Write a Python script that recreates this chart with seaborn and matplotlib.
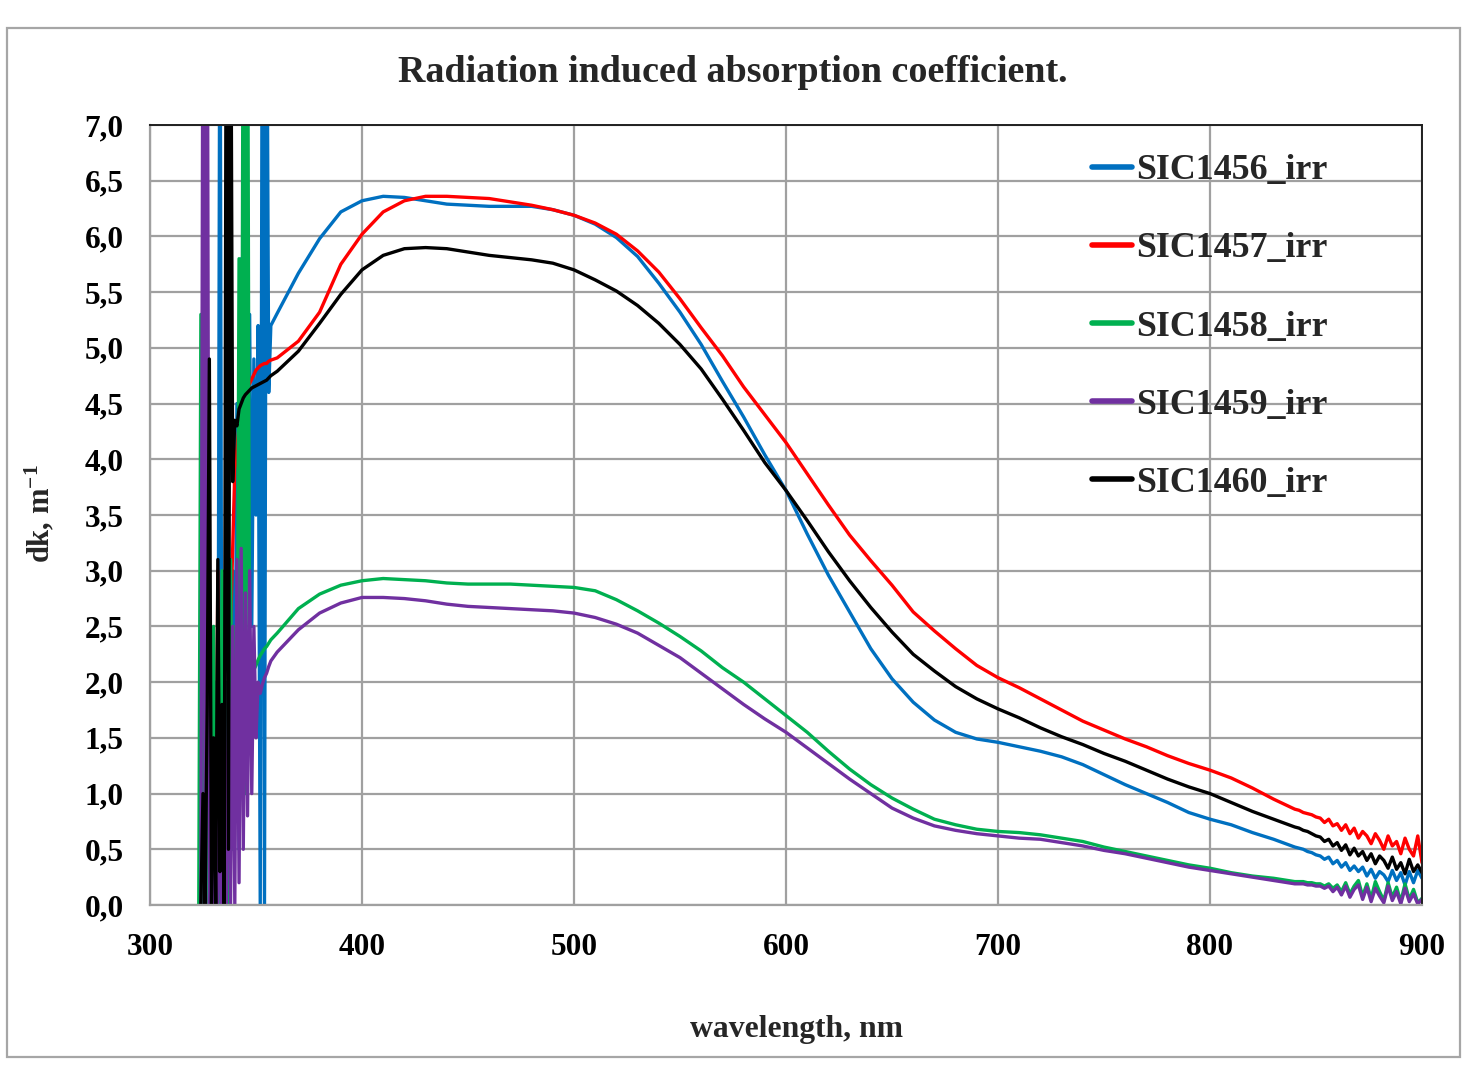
import numpy as np
import pandas as pd
import matplotlib
matplotlib.use("Agg")
import matplotlib.pyplot as plt
import seaborn as sns
from matplotlib.patches import Rectangle
from matplotlib.lines import Line2D
from matplotlib.ticker import FuncFormatter

nan = np.nan

# ---------------- data ----------------
series_names = ["SIC1456_irr", "SIC1457_irr", "SIC1458_irr", "SIC1459_irr", "SIC1460_irr"]
series_colors = ["#0070C0", "#FF0000", "#00B050", "#7030A0", "#000000"]

# sampling wavelengths (nm): noisy UV edge, smooth body, noisy tail
wl_uv = list(range(323, 358))          # 323..357
wl_main = list(range(360, 841, 10))    # 360..840
wl_tail = list(range(842, 901, 2))     # 842..900

blue_uv = [nan, nan, nan, nan, nan, nan, nan, 0.0, 2.0, 0.5, 9.0, 0.0, 1.5, 0.3, 2.0, 0.5, 3.0, 1.0,
           4.5, 0.5, 5.8, 2.0, 5.2, 3.0, 5.3, 2.5, 4.9, 3.5, 5.2, 0.0, 9.0, 0.0, 9.0, 4.6, 5.2]
red_uv = [nan, 4.7, 0.0, 3.5, 0.2, 2.0, 0.0, 1.5, 0.0, 3.0, 0.5, 2.5, 0.3, 1.0, 0.0, 2.5, 3.2, 3.9,
          4.1, 4.3, 4.45, 4.55, 4.6, 4.65, 4.68, 4.72, 4.76, 4.8, 4.82, 4.84, 4.85, 4.86, 4.86, 4.88, 4.89]
green_uv = [0.0, 5.3, 0.0, 2.0, 0.0, 1.0, 0.0, 2.5, 0.0, 1.5, 0.0, 3.0, 0.5, 2.0, 0.0, 3.1, 0.5, 2.5,
            1.0, 5.8, 1.5, 9.0, 1.0, 9.0, 1.5, 2.2, 2.11, 2.15, 2.2, 2.24, 2.27, 2.3, 2.32, 2.35, 2.38]
purple_uv = [nan, 0.0, 9.0, 0.5, 9.0, 0.0, 1.0, 0.0, 1.2, 0.0, 0.8, 0.0, 1.5, 0.0, 2.0, 0.0, 2.5, 0.0,
             3.1, 0.2, 3.2, 0.5, 2.8, 0.8, 3.0, 1.0, 2.5, 1.5, 2.0, 1.9, 1.98, 2.04, 2.08, 2.14, 2.19]
black_uv = [nan, 0.0, 1.0, 0.0, 1.8, 4.9, 0.0, 1.5, 0.0, 3.1, 0.3, 1.8, 0.0, 9.0, 0.5, 9.0, 3.8, 4.35,
            4.3, 4.45, 4.5, 4.55, 4.58, 4.6, 4.62, 4.64, 4.65, 4.66, 4.67, 4.68, 4.69, 4.7, 4.71, 4.73, 4.75]

blue_main = [5.31, 5.67, 5.98, 6.22, 6.32, 6.36, 6.35, 6.32, 6.29, 6.28, 6.27, 6.27, 6.27, 6.24, 6.19,
             6.11, 5.99, 5.82, 5.58, 5.32, 5.03, 4.70, 4.38, 4.04, 3.72, 3.33, 2.96, 2.63, 2.30, 2.03,
             1.82, 1.66, 1.55, 1.49, 1.46, 1.42, 1.38, 1.33, 1.26, 1.17, 1.08, 1.00, 0.92, 0.83, 0.77,
             0.72, 0.65, 0.59, 0.52]
red_main = [4.91, 5.06, 5.32, 5.75, 6.02, 6.22, 6.32, 6.36, 6.36, 6.35, 6.34, 6.31, 6.28, 6.24, 6.19,
            6.12, 6.02, 5.87, 5.68, 5.44, 5.18, 4.93, 4.65, 4.40, 4.15, 3.87, 3.59, 3.32, 3.09, 2.87,
            2.63, 2.46, 2.30, 2.15, 2.04, 1.95, 1.85, 1.75, 1.65, 1.57, 1.49, 1.42, 1.34, 1.27, 1.21,
            1.14, 1.05, 0.95, 0.86]
green_main = [2.44, 2.66, 2.79, 2.87, 2.91, 2.93, 2.92, 2.91, 2.89, 2.88, 2.88, 2.88, 2.87, 2.86, 2.85,
              2.82, 2.74, 2.64, 2.53, 2.41, 2.28, 2.13, 2.00, 1.85, 1.70, 1.55, 1.38, 1.22, 1.08, 0.96,
              0.86, 0.77, 0.72, 0.68, 0.66, 0.65, 0.63, 0.60, 0.57, 0.52, 0.48, 0.44, 0.40, 0.36, 0.33,
              0.29, 0.26, 0.24, 0.21]
purple_main = [2.27, 2.47, 2.62, 2.71, 2.76, 2.76, 2.75, 2.73, 2.70, 2.68, 2.67, 2.66, 2.65, 2.64, 2.62,
               2.58, 2.52, 2.44, 2.33, 2.22, 2.08, 1.94, 1.80, 1.67, 1.55, 1.41, 1.27, 1.13, 1.00, 0.87,
               0.78, 0.71, 0.67, 0.64, 0.62, 0.60, 0.59, 0.56, 0.53, 0.49, 0.46, 0.42, 0.38, 0.34, 0.31,
               0.28, 0.25, 0.22, 0.19]
black_main = [4.79, 4.97, 5.22, 5.48, 5.70, 5.83, 5.89, 5.90, 5.89, 5.86, 5.83, 5.81, 5.79, 5.76, 5.70,
              5.61, 5.51, 5.38, 5.22, 5.03, 4.81, 4.54, 4.26, 3.97, 3.72, 3.45, 3.17, 2.91, 2.67, 2.45,
              2.25, 2.10, 1.96, 1.85, 1.76, 1.68, 1.59, 1.51, 1.44, 1.36, 1.29, 1.21, 1.13, 1.06, 1.00,
              0.92, 0.84, 0.77, 0.70]

blue_tail = [0.51, 0.50, 0.48, 0.47, 0.45, 0.44, 0.41, 0.43, 0.37, 0.40, 0.34, 0.38, 0.31, 0.35, 0.30,
             0.34, 0.26, 0.32, 0.24, 0.30, 0.27, 0.21, 0.31, 0.22, 0.29, 0.18, 0.30, 0.20, 0.31, 0.24]
red_tail = [0.85, 0.83, 0.82, 0.81, 0.79, 0.78, 0.74, 0.77, 0.71, 0.73, 0.67, 0.72, 0.64, 0.69, 0.60,
            0.66, 0.62, 0.55, 0.64, 0.58, 0.50, 0.62, 0.53, 0.57, 0.46, 0.60, 0.50, 0.44, 0.62, 0.38]
green_tail = [0.21, 0.21, 0.20, 0.20, 0.19, 0.19, 0.17, 0.19, 0.15, 0.18, 0.12, 0.20, 0.10, 0.17, 0.22,
              0.08, 0.19, 0.06, 0.21, 0.12, 0.04, 0.20, 0.07, 0.16, 0.03, 0.19, 0.05, 0.14, 0.02, 0.06]
purple_tail = [0.19, 0.19, 0.18, 0.18, 0.17, 0.17, 0.15, 0.17, 0.12, 0.16, 0.09, 0.17, 0.07, 0.14, 0.18,
               0.05, 0.16, 0.03, 0.15, 0.08, 0.02, 0.17, 0.04, 0.12, 0.01, 0.15, 0.03, 0.10, 0.01, 0.05]
black_tail = [0.69, 0.67, 0.66, 0.64, 0.62, 0.61, 0.57, 0.59, 0.53, 0.56, 0.49, 0.54, 0.45, 0.51, 0.44,
              0.48, 0.40, 0.46, 0.37, 0.44, 0.40, 0.33, 0.43, 0.32, 0.38, 0.28, 0.41, 0.30, 0.36, 0.29]

x_ticks = [300, 400, 500, 600, 700, 800, 900]
y_ticks = [0.0, 0.5, 1.0, 1.5, 2.0, 2.5, 3.0, 3.5, 4.0, 4.5, 5.0, 5.5, 6.0, 6.5, 7.0]

title_text = "Radiation induced absorption coefficient."
xlabel_text = "wavelength, nm"
ylabel_text = r"dk, m$^{\mathbf{-1}}$"

# ---------------- build long table ----------------
wavelengths = wl_uv + wl_main + wl_tail
series_values = [
    blue_uv + blue_main + blue_tail,
    red_uv + red_main + red_tail,
    green_uv + green_main + green_tail,
    purple_uv + purple_main + purple_tail,
    black_uv + black_main + black_tail,
]
rows = []
for name, vals in zip(series_names, series_values):
    for w, v in zip(wavelengths, vals):
        if not np.isnan(v):
            rows.append((name, w, v))
df = pd.DataFrame(rows, columns=["series", "wavelength", "dk"])

# ---------------- style ----------------
sns.set_theme(style="white")
plt.rcParams["font.family"] = ["Liberation Serif", "DejaVu Serif"]
plt.rcParams["font.weight"] = "bold"
plt.rcParams["mathtext.fontset"] = "custom"
plt.rcParams["mathtext.rm"] = "Liberation Serif:bold"
plt.rcParams["mathtext.bf"] = "Liberation Serif:bold"
plt.rcParams["mathtext.it"] = "Liberation Serif:bold"

W, H = 1479, 1081
fig = plt.figure(figsize=(W / 100, H / 100), dpi=100)
fig.patch.set_facecolor("white")

# outer chart frame
fig.add_artist(Rectangle((7 / W, 1 - 1057 / H), (1460 - 7) / W, (1057 - 28) / H,
                         transform=fig.transFigure, fill=False, edgecolor="#a6a6a6", linewidth=1.6))

ax = fig.add_axes([150 / W, 1 - 905 / H, (1422 - 150) / W, (905 - 125) / H])
ax.set_facecolor("white")

sns.lineplot(data=df, x="wavelength", y="dk", hue="series", hue_order=series_names,
             palette=series_colors, estimator=None, sort=False, linewidth=2.4, ax=ax, legend=False)

ax.set_xlim(300, 900)
ax.set_ylim(0, 7)
ax.set_xticks(x_ticks)
ax.set_yticks(y_ticks)
ax.xaxis.set_major_formatter(FuncFormatter(lambda v, p: f"{int(round(v))}"))
ax.yaxis.set_major_formatter(FuncFormatter(lambda v, p: f"{v:.1f}".replace(".", ",")))

ax.set_axisbelow(True)
ax.grid(True, color="#a0a0a0", linewidth=1.6)
for s in ["left", "bottom"]:
    ax.spines[s].set_color("#a0a0a0")
    ax.spines[s].set_linewidth(1.6)
for s in ["top", "right"]:
    ax.spines[s].set_color("#202020")
    ax.spines[s].set_linewidth(1.4)

ax.tick_params(axis="both", direction="out", length=9, width=1.6, color="#a0a0a0",
               labelsize=22.5, labelcolor="black")
ax.tick_params(axis="y", pad=10)
ax.tick_params(axis="x", pad=11)
for lab in ax.get_xticklabels() + ax.get_yticklabels():
    lab.set_fontweight("bold")

ax.set_xlabel("")
ax.set_ylabel("")

fig.text(733 / W, 1 - 72 / H, title_text, ha="center", va="center", fontsize=27.4, fontweight="bold")
fig.text(796 / W, 1 - 1030 / H, xlabel_text, ha="center", va="center", fontsize=22.8, fontweight="bold")
fig.text(40 / W, 1 - 514 / H, ylabel_text, ha="center", va="center", rotation=90, fontsize=22,
         fontweight="bold")

handles = [Line2D([0], [0], color=c, linewidth=4, solid_capstyle="round") for c in series_colors]
leg = ax.legend(handles, series_names, loc="upper left", bbox_to_anchor=(1092 / W, 1 - 154 / H),
                bbox_transform=fig.transFigure, frameon=False, fontsize=25.8, handlelength=1.12,
                handletextpad=0.1, labelspacing=1.26, borderpad=0, borderaxespad=0)
for t in leg.get_texts():
    t.set_fontweight("bold")

fig.savefig("out.png", dpi=100, facecolor="white")
